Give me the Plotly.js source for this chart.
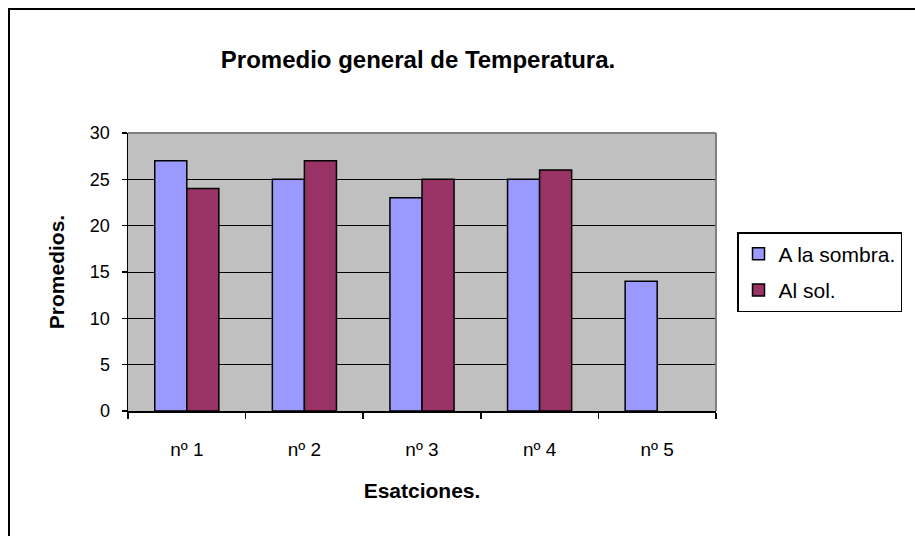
<!DOCTYPE html>
<html>
<head>
<meta charset="utf-8">
<script src="https://cdn.plot.ly/plotly-3.0.1.min.js"></script>
<style>
  html, body { margin: 0; padding: 0; background: #fff; }
  #chart { width: 915px; height: 536px; }
</style>
</head>
<body>
<div id="chart"></div>
<script>
const categories = ["nº 1", "nº 2", "nº 3", "nº 4", "nº 5"];
const sombra = [27, 25, 23, 25, 14];
const sol = [24, 27, 25, 26, null];
const yTicks = [0, 5, 10, 15, 20, 25, 30];

const L = 128, R = 716, T = 133, B = 411, W = 915, H = 536;
const px = x => (x - L) / (R - L);
const py = y => (B - y) / (B - T);

const font = "Liberation Sans, Arial, sans-serif";

const traces = [
  { type: "bar", name: "A la sombra.", x: categories, y: sombra, legendgroup: "a",
    marker: { color: "#9999FF", line: { color: "#000", width: 1.5 } } },
  { type: "bar", name: "Al sol.", x: categories, y: sol, legendgroup: "b",
    marker: { color: "#993366", line: { color: "#000", width: 1.5 } } }
];

const layout = {
  width: W, height: H,
  margin: { l: L, r: W - R, t: T, b: H - B, pad: 0 },
  paper_bgcolor: "#fff",
  plot_bgcolor: "#C0C0C0",
  barmode: "group",
  bargap: 0.455,
  bargroupgap: 0,
  font: { family: font, color: "#000", size: 18 },
  title: { text: "Promedio general de Temperatura.", font: { family: font, size: 24, color: "#000", weight: "bold" },
           x: px(418), xref: "paper", xanchor: "center", y: 1 - 60 / H, yref: "container", yanchor: "middle" },
  xaxis: {
    type: "category", tickson: "boundaries", ticks: "outside", ticklen: 6, tickcolor: "#000", tickwidth: 1.5,
    showline: true, linecolor: "#000", linewidth: 1.5, showgrid: false, zeroline: false,
    tickfont: { family: font, size: 19, color: "#000" }, ticklabelstandoff: 21,
    title: { text: "Esatciones.", font: { family: font, size: 21, color: "#000", weight: "bold" }, standoff: 24 },
    fixedrange: true
  },
  yaxis: {
    range: [0, 30], tickvals: yTicks, ticks: "outside", ticklen: 5, tickcolor: "#000", tickwidth: 1.5,
    showline: true, linecolor: "#000", linewidth: 1.5, showgrid: true, gridcolor: "#000", gridwidth: 1,
    zeroline: false, tickfont: { family: font, size: 18, color: "#000" }, ticklabelstandoff: 8,
    title: { text: "Promedios.", font: { family: font, size: 21, color: "#000", weight: "bold" }, standoff: 19 },
    fixedrange: true
  },
  legend: {
    x: px(737), y: py(232), xanchor: "left", yanchor: "top",
    bgcolor: "#fff", bordercolor: "#000", borderwidth: 1.5,
    font: { family: font, size: 21, color: "#000" },
    traceorder: "grouped", tracegroupgap: 6, itemwidth: 30,
    entrywidth: 150, entrywidthmode: "pixels"
  },
  shapes: [
    { type: "line", xref: "paper", yref: "paper", x0: 0, x1: 1, y0: 1, y1: 1, line: { color: "#808080", width: 2 } },
    { type: "line", xref: "paper", yref: "paper", x0: 1, x1: 1, y0: 0, y1: 1, line: { color: "#808080", width: 2 } },
    { type: "line", xref: "paper", yref: "paper", x0: px(9), x1: px(9), y0: py(8), y1: py(540), line: { color: "#000", width: 2 } },
    { type: "line", xref: "paper", yref: "paper", x0: px(8), x1: px(920), y0: py(9), y1: py(9), line: { color: "#000", width: 2 } }
  ],
  showlegend: true
};

Plotly.newPlot("chart", traces, layout, { displayModeBar: false, staticPlot: true });
</script>
</body>
</html>
